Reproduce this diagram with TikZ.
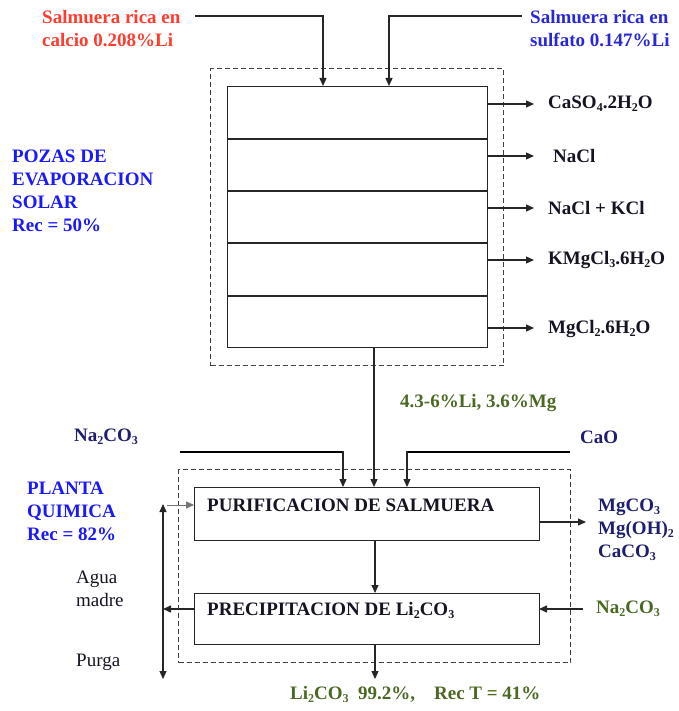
\documentclass[tikz,border=0pt]{standalone}
\usepackage{fontspec}
\setmainfont{Liberation Serif}
\usetikzlibrary{arrows.meta}
\definecolor{redtxt}{RGB}{255,60,45}
\definecolor{bluetxt}{RGB}{40,40,215}
\definecolor{pozablue}{RGB}{25,25,250}
\definecolor{greentxt}{RGB}{75,105,35}
\definecolor{navytxt}{RGB}{30,30,110}
\definecolor{inktxt}{RGB}{20,20,35}
\newcommand\mysub[1]{\raisebox{-0.35ex}{\fontsize{12}{12}\selectfont #1}}
\begin{document}
\begin{tikzpicture}[x=1pt,y=-1pt,
  lbl/.style={anchor=west,inner sep=0pt,font=\fontsize{19}{23}\selectfont\bfseries,text=inktxt},
  mlbl/.style={anchor=north west,inner sep=0pt,align=left,font=\fontsize{19}{23}\selectfont\bfseries},
  boxst/.style={draw=black!85,line width=1.3pt,rectangle,inner sep=0pt,anchor=north west},
  dashst/.style={draw=black!75,dash pattern=on 5pt off 3pt,line width=1.1pt,rectangle,inner sep=0pt,anchor=north west},
  ln/.style={draw=black!85,line width=1.2pt},
  arr/.style={ln,-{Triangle[length=8pt,width=7pt]}},
  thk/.style={draw=black,line width=2.2pt}]
\useasboundingbox (0,0) rectangle (678,711);

% ---------- solar ponds ----------
\node[dashst,minimum width=293pt,minimum height=297pt] (pdash) at (210,68) {};
\node[boxst,minimum width=260pt,minimum height=261pt] (pond) at (227,86) {};
\coordinate (d1l) at (227,139); \coordinate (d1r) at (487,139);
\coordinate (d2l) at (227,191); \coordinate (d2r) at (487,191);
\coordinate (d3l) at (227,243); \coordinate (d3r) at (487,243);
\coordinate (d4l) at (227,296); \coordinate (d4r) at (487,296);
\draw[ln] (d1l) -- (d1r);
\draw[ln] (d2l) -- (d2r);
\draw[ln] (d3l) -- (d3r);
\draw[ln] (d4l) -- (d4r);

% inputs
\node[mlbl,text=redtxt] (inca) at (42,10) {Salmuera rica en\\calcio 0.208\%Li};
\node[mlbl,text=bluetxt] (inso) at (530,10) {Salmuera rica en\\sulfato 0.147\%Li};
\coordinate (ca0) at (195,16); \coordinate (ca1) at (323,86);
\coordinate (so0) at (522,16); \coordinate (so1) at (389,86);
\draw[arr] (ca0) -| (ca1);
\draw[arr] (so0) -| (so1);

% outputs
\coordinate (o1a) at (487,104); \coordinate (o1b) at (534,104);
\coordinate (o2a) at (487,156); \coordinate (o2b) at (534,156);
\coordinate (o3a) at (487,208); \coordinate (o3b) at (534,208);
\coordinate (o4a) at (487,260); \coordinate (o4b) at (534,260);
\coordinate (o5a) at (487,328); \coordinate (o5b) at (534,328);
\draw[arr] (o1a) -- (o1b);
\draw[arr] (o2a) -- (o2b);
\draw[arr] (o3a) -- (o3b);
\draw[arr] (o4a) -- (o4b);
\draw[arr] (o5a) -- (o5b);
\node[lbl] (s1) at (548,104) {CaSO\mysub{4}.2H\mysub{2}O};
\node[lbl] (s2) at (553,156) {NaCl};
\node[lbl] (s3) at (548,208) {NaCl + KCl};
\node[lbl] (s4) at (548,260) {KMgCl\mysub{3}.6H\mysub{2}O};
\node[lbl] (s5) at (548,329) {MgCl\mysub{2}.6H\mysub{2}O};

\node[mlbl,text=pozablue] (pozas) at (12,150) {POZAS DE\\EVAPORACION\\SOLAR\\Rec = 50\%};

% ---------- chemical plant ----------
\node[dashst,minimum width=392pt,minimum height=193pt] (qdash) at (178,469) {};
\node[boxst,minimum width=345pt,minimum height=53pt] (purif) at (194,487) {};
\node[boxst,minimum width=345pt,minimum height=51pt] (prec) at (194,593) {};
\node[lbl] (tpurif) at (207,505) {PURIFICACION DE SALMUERA};
\node[lbl] (tprec) at (207,610) {PRECIPITACION DE Li\mysub{2}CO\mysub{3}};

\node[lbl,text=greentxt] (conc) at (400,403) {4.3-6\%Li, 3.6\%Mg};
\node[lbl,text=navytxt] (naco) at (74,437) {Na\mysub{2}CO\mysub{3}};
\node[lbl,text=navytxt] (cao) at (580,437) {CaO};
\node[mlbl,text=pozablue] (planta) at (27,482) {PLANTA\\QUIMICA\\Rec = 82\%};
\node[mlbl,text=navytxt] (mgco) at (598,499) {MgCO\mysub{3}\\Mg(OH)\mysub{2}\\CaCO\mysub{3}};
\node[lbl,text=greentxt] (naco2) at (596,609) {Na\mysub{2}CO\mysub{3}};
\node[mlbl,font=\fontsize{19}{23}\selectfont,text=inktxt] (agua) at (76,571) {Agua\\madre};
\node[lbl,font=\fontsize{19}{23}\selectfont] (purga) at (76,662) {Purga};
\node[lbl,text=greentxt] (prod) at (290,694) {Li\mysub{2}CO\mysub{3}\ \ 99.2\%,\ \ \ \ Rec T = 41\%};

% pond -> purification
\coordinate (pb) at (374,347); \coordinate (pt) at (374,487);
\draw[arr] (pb) -- (pt);
% reagents
\coordinate (na0) at (180,452); \coordinate (na1) at (343,487);
\coordinate (cao0) at (570,452); \coordinate (cao1) at (407,487);
\draw[thk] (na0) -- (343,452);
\draw[arr] (343,451) -- (na1);
\draw[thk] (cao0) -- (407,452);
\draw[arr] (407,451) -- (cao1);
% purification -> precipitation
\coordinate (pu0) at (375,540); \coordinate (pr0) at (375,593);
\draw[arr] (pu0) -- (pr0);
% purification residues
\coordinate (re0) at (539,522); \coordinate (re1) at (586,522);
\draw[arr] (re0) -- (re1);
% Na2CO3 into precipitation
\coordinate (nb0) at (583,609); \coordinate (nb1) at (539,609);
\draw[arr] (nb0) -- (nb1);
% mother liquor
\coordinate (ml0) at (194,609); \coordinate (mj) at (163,609);
\coordinate (mtop) at (163,504); \coordinate (mbot) at (163,679);
\draw[arr] (ml0) -- (mj);
\draw[arr] (mj) -- (mtop);
\draw[arr] (mj) -- (mbot);
\coordinate (rc0) at (167,505); \coordinate (rc1) at (194,505);
\draw[arr,draw=black!55,line width=0.9pt] (rc0) -- (rc1);
% product
\coordinate (pp0) at (375,644); \coordinate (pp1) at (375,679);
\draw[arr] (pp0) -- (pp1);
\end{tikzpicture}
\end{document}
